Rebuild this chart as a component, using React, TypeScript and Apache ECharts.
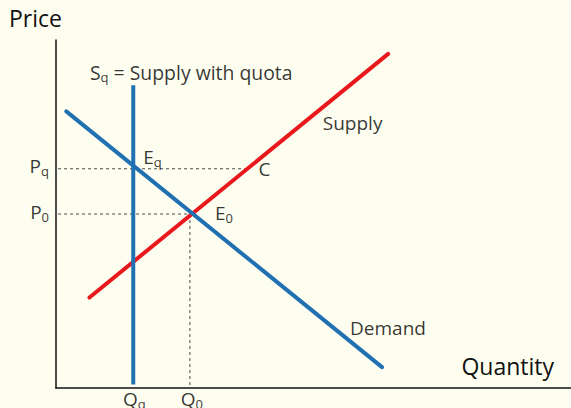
import React, { useEffect, useRef } from "react";
import * as echarts from "echarts";

// Curves (quantity, price) in chart units
const supplyCurve: number[][] = [[6.5, 26], [64.5, 96]];
const demandCurve: number[][] = [[2, 79.5], [63.3, 6]];
const quotaQuantity = 15; // Qq
const quotaRange: number[] = [1, 87];
const equilibriumQuantity = 26; // Q0
const quotaPrice = 63; // Pq
const equilibriumPrice = 50; // P0
const pointCQuantity = 37; // C on supply at Pq

const FONT = "'Open Sans', 'Liberation Sans', sans-serif";
const TEXT = "#000000";
const RED = "#e8191c";
const BLUE = "#2170b2";
const DASH = "#4a4a4a";

const noBorder = { textBorderWidth: 0, textBorderColor: "transparent", textShadowBlur: 0 };
const sub = (a: string, b: string) => `{m|${a}}{s|${b}}`;
const base = { fontFamily: FONT, color: TEXT, fontWeight: 500, ...noBorder };
const rich = {
  m: { ...base, fontSize: 19, lineHeight: 22 },
  s: { ...base, fontSize: 13, lineHeight: 13, padding: [10, 0, 0, 0] },
  b: { ...base, fontSize: 19.4, lineHeight: 22 },
};

export default function App() {
  const ref = useRef<HTMLDivElement>(null);
  useEffect(() => {
    if (!ref.current) return;
    const chart = echarts.init(ref.current, null, { renderer: "svg" });

    const dashLine = (data: number[][]) => ({
      type: "line",
      data,
      symbol: "none",
      silent: true,
      z: 1,
      lineStyle: { color: DASH, width: 1, type: [3, 3] },
    });

    const annotations = [
      { value: [0, quotaPrice], text: sub("P", "q"), align: "right", offset: [-7, -3] },
      { value: [0, equilibriumPrice], text: sub("P", "0"), align: "right", offset: [-7, -2] },
      { value: [quotaQuantity, 0], text: sub("Q", "q"), align: "center", offset: [1, 11] },
      { value: [equilibriumQuantity, 0], text: sub("Q", "0"), align: "center", offset: [2, 11] },
      { value: [quotaQuantity, quotaPrice], text: sub("E", "q"), align: "left", offset: [10, -12] },
      { value: [equilibriumQuantity, equilibriumPrice], text: sub("E", "0"), align: "left", offset: [25, -1] },
      { value: [pointCQuantity, quotaPrice], text: "{m|C}", align: "left", offset: [12, 0] },
      { value: [6.6, 90.8], text: "{b|S}{s|q}{b| = Supply with quota}", align: "left", offset: [0, 0] },
      { value: [51.8, 76.1], text: "{m|Supply}", align: "left", offset: [0, 0] },
      { value: [57.1, 17.2], text: "{m|Demand}", align: "left", offset: [0, 0] },
    ];

    chart.setOption({
      animation: false,
      backgroundColor: "#fefef0",
      grid: { left: 56, right: 0, top: 40, bottom: 20 },
      xAxis: {
        type: "value",
        min: 0,
        max: 100,
        axisLine: { show: true, onZero: false, lineStyle: { color: "#111", width: 1.5 } },
        axisTick: { show: false },
        axisLabel: { show: false },
        splitLine: { show: false },
      },
      yAxis: {
        type: "value",
        min: 0,
        max: 100,
        axisLine: { show: true, onZero: false, lineStyle: { color: "#111", width: 1.5 } },
        axisTick: { show: false },
        axisLabel: { show: false },
        splitLine: { show: false },
      },
      graphic: [
        { type: "text", left: 9, top: 6, style: { text: "Price", font: `23px ${FONT}`, fill: "#111" } },
        { type: "text", right: 17, top: 354, style: { text: "Quantity", font: `23px ${FONT}`, fill: "#111" } },
      ],
      series: [
        dashLine([[0.4, quotaPrice], [pointCQuantity, quotaPrice]]),
        dashLine([[0.4, equilibriumPrice], [equilibriumQuantity, equilibriumPrice]]),
        dashLine([[equilibriumQuantity, equilibriumPrice], [equilibriumQuantity, 0]]),
        {
          type: "line",
          name: "Supply",
          data: supplyCurve,
          symbol: "none",
          z: 2,
          lineStyle: { color: RED, width: 4, cap: "round" },
        },
        {
          type: "line",
          name: "Demand",
          data: demandCurve,
          symbol: "none",
          z: 3,
          lineStyle: { color: BLUE, width: 4, cap: "round" },
        },
        {
          type: "line",
          name: "Supply with quota",
          data: quotaRange.map((p) => [quotaQuantity, p]),
          symbol: "none",
          z: 3,
          lineStyle: { color: BLUE, width: 4 },
        },
        {
          type: "scatter",
          symbolSize: 0,
          clip: false,
          silent: true,
          z: 5,
          data: annotations.map((a) => ({
            value: a.value,
            label: {
              show: true,
              position: "inside",
              align: a.align,
              verticalAlign: "middle",
              offset: a.offset,
              formatter: a.text,
              color: TEXT,
              ...noBorder,
              rich,
            },
          })),
        },
      ],
    });
    return () => chart.dispose();
  }, []);
  return (
    <div
      ref={ref}
      style={{ position: "fixed", left: 0, top: 0, width: 571, height: 408 }}
    />
  );
}
